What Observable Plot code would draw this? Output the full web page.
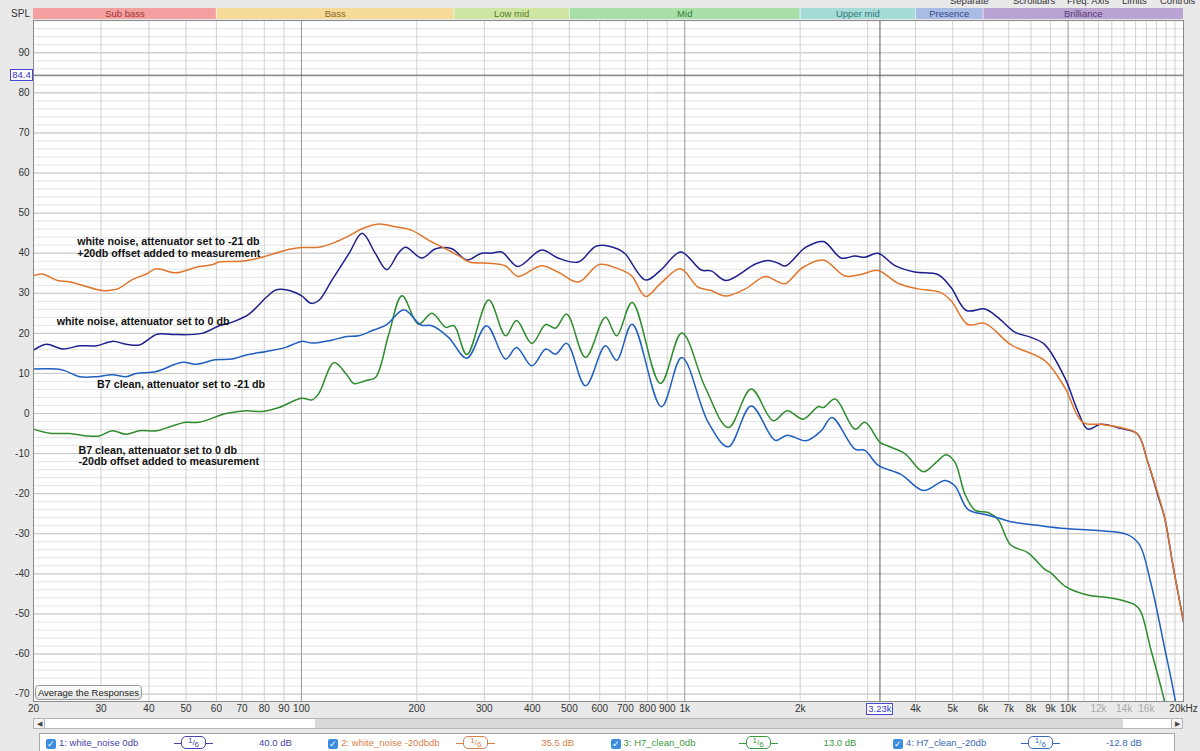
<!DOCTYPE html>
<html><head><meta charset="utf-8">
<script src="https://cdn.jsdelivr.net/npm/d3@7"></script>
<script src="https://cdn.jsdelivr.net/npm/@observablehq/plot@0.6"></script>
<style>
html,body{margin:0;padding:0;}
body{width:1200px;height:751px;overflow:hidden;background:#e9e9e9;position:relative;font-family:"Liberation Sans",Arial,sans-serif;}
.abs{position:absolute;}
svg{position:absolute;left:0;top:0;}
.menu{position:absolute;top:-5px;font-size:9.5px;color:#333;white-space:nowrap;line-height:11px;}
.btn{position:absolute;left:35px;top:685px;width:105px;height:13px;border:1px solid #9a9a9a;border-radius:4px;background:linear-gradient(#ffffff,#e4e4e4);font-size:9.5px;line-height:13px;text-align:center;color:#222;}
.cbox{position:absolute;border:1px solid #4a4ad0;background:#fff;color:#3434c8;font-size:9.5px;line-height:10px;text-align:center;}
.chk{position:absolute;width:10px;height:10px;border-radius:2px;background:#3c8de0;color:#fff;font-size:9px;line-height:10px;text-align:center;top:5px;}
.ltxt{position:absolute;top:2px;font-size:9.5px;line-height:14px;white-space:nowrap;}
.smooth{position:absolute;top:2px;width:39px;height:14px;}
.smooth .l{position:absolute;top:7px;height:0;border-top:1.5px solid;width:7px;}
.smooth .b{position:absolute;left:7px;top:0;width:23px;height:11px;border:1.5px solid;border-radius:5px;font-size:8px;line-height:11px;text-align:center;}
</style>
</head><body>
<script>
// ---- data ----
const navyFreq = [20,21.6,23.8,26.4,29.2,32.1,34.9,37.8,42,46,55,61,66,73,81,86,93,100,106,111,120,133,144,156,167,179,187,206,224,247,270,295,312,333,367,423,467,528,589,671,700,790,864,976,1104,1172,1280,1528,1652,1754,1829,2070,2300,2558,2780,2952,3192,3534,3980,4574,4946,5430,6068,6556,7260,8000,8694,9796,10592,11246,12160,13710,15172,16100,17320,17860,18700,20000];
const navyDb = [15.8,17.3,16.1,16.9,16.9,18.0,17.3,17.1,19.8,19.7,20.0,21.9,22.8,24.8,29.0,30.9,30.7,29.4,27.5,28.2,33.2,39.9,45.0,39.9,35.9,40.0,41.5,38.8,41.1,41.1,38.3,40.0,40.0,40.3,36.7,40.8,38.8,37.8,41.8,41.0,39.8,33.3,35.7,40.3,35.8,35.6,33.2,37.3,38.2,37.5,36.8,41.5,42.9,38.8,39.3,39.0,40.0,36.9,35.3,34.7,31.5,25.7,26.1,24.0,20.3,19.0,17.2,9.0,0.7,-3.9,-2.7,-3.7,-5.1,-11.8,-21.8,-26,-37,-52];

const orangeFreq = [20,21.1,23.1,24.8,26.8,30.2,32.1,33.5,36.2,39.4,41.8,47.1,53.1,58.5,61,70,79,87.4,94.6,100,111,120,131,144,159,176,194,215,238,257,274,308,341,367,423,467,528,598,671,726,790,863,974,1084,1172,1276,1439,1622,1754,1829,2036,2300,2618,2884,3192,3598,4050,4620,4946,5476,6068,7086,8694,9796,10916,12160,13710,15172,16100,17860,18700,20000];
const orangeDb = [34.4,34.8,33.2,32.9,32.0,30.7,30.8,31.3,33.4,34.8,36.1,35.1,36.5,37.1,37.8,38.0,39.0,40.3,41.1,41.4,41.5,42.4,44.0,46.1,47.3,46.6,45.7,43.2,41.1,39.4,37.8,37.5,36.8,34.2,36.9,35.3,32.8,37.2,36.1,34.4,29.2,32.4,36.1,31.5,30.7,29.3,31.1,34.2,32.8,32.4,36.5,38.3,34.3,34.7,35.7,32.5,31.1,30.3,28.2,22.2,22.5,17.2,13.2,6.5,-2.2,-2.7,-3.5,-5.1,-11.8,-26,-37,-52];

const greenFreq = [20,22,24.8,27.5,29.7,32.1,34.9,37.8,42,46,50,54,63.6,71.7,79,87.4,100,106.7,111,121.6,131,137,147,156,169,183,202,219,238,250,270,308,341,364,399,434,460,492,551,621,664,729,864,982,1131,1299,1490,1702,1850,2036,2228,2300,2468,2780,2952,3232,3390,3751,4190,4574,4800,5068,5380,5716,6180,6556,7086,7848,8694,9000,9850,11246,12914,14902,15450,16400,17860,18500];
const greenDb = [-3.9,-4.9,-5.0,-5.6,-5.6,-4.3,-5.2,-4.3,-4.3,-3.1,-2.2,-2.2,0,0.7,0.5,1.5,3.8,3.4,5.0,12.7,9.8,7.5,8.2,9.0,19.8,29.4,22.3,25.0,21.5,21.9,14.7,28.3,19.4,23.2,17.5,22.2,21.3,24.8,14.0,24.0,19.4,27.7,7.5,20.1,6.5,-3.5,6.1,-1.8,0.7,-1.4,1.7,1.5,3.6,-3.9,-2.2,-7.2,-8.1,-10.0,-14.5,-11.8,-10.3,-12.2,-20.1,-24.1,-24.7,-26.4,-32.8,-34.7,-38.9,-39.7,-43.2,-45.3,-46.0,-47.7,-49.3,-58.5,-72,-80];

const blueFreq = [20,23,24.1,26.4,29.2,32.1,34.9,37.1,41.8,48.9,53.1,59.5,66,71.7,81,91,100,106.7,120,131,141,153,167,185,205,219,242,270,304,341,364,399,434,460,492,551,621,664,729,869,982,1151,1299,1490,1722,1850,2070,2270,2420,2780,2952,3192,3664,4190,4774,5068,5476,6068,6442,7086,8332,9850,11940,14290,15350,16400,17860,19060,19500];
const blueDb = [11.1,11.1,10.7,9.2,9.2,9.7,9.2,10.0,10.5,12.8,12.3,13.4,13.6,14.6,15.5,16.5,18.0,17.6,18.3,19.2,19.4,20.7,22.2,25.9,22.1,21.9,19.0,13.8,21.9,13.6,16.5,11.9,16.1,14.8,17.5,6.9,16.9,13.3,22.3,1.7,14.0,-2.2,-8.3,1.9,-6.7,-5.4,-6.8,-4.3,-1.0,-8.9,-9.2,-12.9,-15.2,-19.2,-16.7,-18.1,-23.9,-25.2,-25.8,-27.0,-27.9,-28.7,-29.2,-30.2,-32.7,-41.9,-58.5,-72,-80];

const seriesNames = ["1: white_noise 0db","2: white_noise -20dbdb","3: H7_clean_0db","4: H7_clean_-20db"];
const seriesValues = ["40.0 dB","35.5 dB","13.0 dB","-12.8 dB"];
const seriesSmoothing = "1/6";

const bandNames = ["Sub bass","Bass","Low mid","Mid","Upper mid","Presence","Brilliance"];
const bandLo = [20,60,250,500,2000,4000,6000];
const bandHi = [60,250,500,2000,4000,6000,20000];

const xTickValues = [20,30,40,50,60,70,80,90,100,200,300,400,500,600,700,800,900,1000,2000,4000,5000,6000,7000,8000,9000,10000];
const xTickFaint = [12000,14000,16000];
const xTickEnd = [20000];
const yTickValues = [-70,-60,-50,-40,-30,-20,-10,0,10,20,30,40,50,60,70,80,90];

const cursorFreq = 3230, cursorFreqLabel = "3.23k";
const cursorLevel = 84.4, cursorLevelLabel = "84.4";

const noteText = ["white noise, attenuator set to -21 db\n+20db offset added to measurement","white noise, attenuator set to 0 db","B7 clean, attenuator set to -21 db","B7 clean, attenuator set to 0 db\n-20db offset added to measurement"];
const noteFreq = [26.0,23.0,29.3,26.2];
const noteDb = [41.5,23.0,7.2,-10.5];

const menuItems = ["Separate","Scrollbars","Freq. Axis","Limits","Controls"];

// ---- styling (not data) ----
const lineColors = ["#1f1f8e","#e0762c","#2e8b2e","#1f5fc0"];
const legendColors = ["#4646a8","#d8804a","#3c9a3c","#3a68b6"];
const bandFill = ["#f4a0a0","#f6da98","#cfe6a2","#a8dea8","#a6dcd8","#a9bde4","#b9a3d3"];
const bandText = ["#9c3434","#85672c","#557a2c","#357a35","#327676","#34488a","#573878"];

const freqs = [navyFreq,orangeFreq,greenFreq,blueFreq];
const dbs = [navyDb,orangeDb,greenDb,blueDb];
const rows = [];
freqs.forEach((fa,i)=>fa.forEach((f,j)=>rows.push({f, db: dbs[i][j], s: seriesNames[i]})));
const bands = bandNames.map((n,i)=>({name:n, lo:bandLo[i], hi:bandHi[i], fill:bandFill[i], tc:bandText[i]}));
const notes = noteText.map((t,i)=>({t, f:noteFreq[i], db:noteDb[i]}));

const gridFreqs = [];
for (let d of [10,100,1000]) for (let k=2;k<=9;k++) if (k*d>=20) gridFreqs.push(k*d);
for (let k=11;k<=19;k++) gridFreqs.push(k*1000);
const decadeFreqs = [100,1000,10000];
const minorDb = d3.range(-70, 99, 2);
const majorDb = d3.range(-70, 91, 10);

const font = "'Liberation Sans', Arial, sans-serif";
const common = {width:1200, marginLeft:33, marginRight:17};

const bandPlot = Plot.plot({
  ...common, height:20, marginTop:8, marginBottom:1,
  x:{type:"log", domain:[20,20000], axis:null},
  style:{background:"transparent", fontFamily:font},
  marks:[
    Plot.rect(bands,{x1:"lo", x2:"hi", fill:"fill"}),
    Plot.ruleX(bandLo.slice(1),{stroke:"#ffffff", strokeOpacity:0.6}),
    Plot.text(bands,{x:d=>Math.sqrt(d.lo*d.hi), text:"name", fill:"tc", fontSize:9.5})
  ]
});

const fmt = f => f >= 1000 ? (f/1000)+"k" : String(f);

const main = Plot.plot({
  ...common, height:716, marginTop:20, marginBottom:15,
  x:{type:"log", domain:[20,20000], axis:null},
  y:{domain:[-71.85,98.06], axis:null},
  style:{background:"transparent", fontFamily:font, fontSize:"10px", color:"#333"},
  marks:[
    Plot.frame({fill:"#ffffff", stroke:null}),
    Plot.gridY({ticks:minorDb, stroke:"#e4e4e4", strokeOpacity:1}),
    Plot.gridY({ticks:majorDb, stroke:"#c6c6c6", strokeOpacity:1}),
    Plot.gridX({ticks:gridFreqs, stroke:"#d2d2d2", strokeOpacity:1}),
    Plot.gridX({ticks:decadeFreqs, stroke:"#9a9a9a", strokeOpacity:1}),
    Plot.ruleY([cursorLevel],{stroke:"#5a5a5a", strokeWidth:1}),
    Plot.ruleX([cursorFreq],{stroke:"#5a5a5a", strokeWidth:1}),
    Plot.line(rows,{x:"f", y:"db", z:"s", stroke:d=>lineColors[seriesNames.indexOf(d.s)], strokeWidth:1.5, curve:"catmull-rom", clip:true}),
    Plot.text(notes,{x:"f", y:"db", text:"t", textAnchor:"start", lineAnchor:"middle", fontWeight:"bold", fontSize:10.7, lineHeight:1.08, fill:"#111"}),
    Plot.frame({stroke:"#8a8a8a"}),
    Plot.text(yTickValues,{y:d=>d, frameAnchor:"left", textAnchor:"end", dx:-4, text:d=>String(d), fill:"#333", fontSize:10}),
    Plot.text(xTickValues,{x:d=>d, frameAnchor:"bottom", lineAnchor:"top", dy:3, text:fmt, fill:"#333", fontSize:10}),
    Plot.text(xTickFaint,{x:d=>d, frameAnchor:"bottom", lineAnchor:"top", dy:3, text:fmt, fill:"#a8a8a8", fontSize:10}),
    Plot.text(xTickEnd,{x:d=>d, frameAnchor:"bottom", lineAnchor:"top", dy:3, text:d=>fmt(d)+"Hz", fill:"#333", fontSize:10})
  ]
});

document.body.appendChild(bandPlot);
document.body.appendChild(main);

const add = (cls, css, html) => { const e=document.createElement("div"); e.className=cls; Object.assign(e.style, css); e.innerHTML=html; document.body.appendChild(e); return e; };

// menu (cut off at the top in the original window)
const menuX = [950,1013,1067,1122,1160];
menuItems.forEach((m,i)=>add("menu",{left:menuX[i]+"px"},m));

// SPL label
add("abs",{left:"0px",top:"8px",width:"30px",textAlign:"right",fontSize:"10px",color:"#333",lineHeight:"12px"},"SPL");

// cursor labels
const ys = main.scale("y"), xs = main.scale("x");
const cy = ys.apply(cursorLevel);
add("cbox",{left:"10px",top:(cy-6)+"px",width:"21px",height:"10px"},cursorLevelLabel);
const cx = xs.apply(cursorFreq);
add("cbox",{left:(cx-13)+"px",top:"703px",width:"25px",height:"10px"},cursorFreqLabel);

// button
add("btn",{}, "Average the Responses");

// scrollbar
add("abs",{left:"33px",top:"718px",width:"1150px",height:"11px",background:"#fff",border:"1px solid #b5b5b5",boxSizing:"border-box"},"");
add("abs",{left:"33px",top:"718px",width:"12px",height:"11px",background:"#f2f2f2",border:"1px solid #b5b5b5",boxSizing:"border-box",fontSize:"7px",lineHeight:"9px",textAlign:"center",color:"#444"},"&#9664;");
add("abs",{left:"315px",top:"719px",width:"808px",height:"9px",background:"#d9d9d9"},"");
add("abs",{left:"1171px",top:"718px",width:"12px",height:"11px",background:"#f2f2f2",border:"1px solid #b5b5b5",boxSizing:"border-box",fontSize:"7px",lineHeight:"9px",textAlign:"center",color:"#444"},"&#9654;");

// legend bar
const bar = add("abs",{left:"39px",top:"733px",width:"1136px",height:"22px",background:"#fff",border:"1px solid #a8a8a8",boxSizing:"border-box"},"");
seriesNames.forEach((n,i)=>{
  const x0 = 6 + i*282.3;
  const c = legendColors[i];
  const mk = (cls, css, html)=>{const e=document.createElement("div"); e.className=cls; Object.assign(e.style,css); e.innerHTML=html; bar.appendChild(e); return e;};
  mk("chk",{left:x0+"px"},"&#10003;");
  mk("ltxt",{left:(x0+13)+"px",color:c},n);
  const s = mk("smooth",{left:(x0+128)+"px"},"");
  const [a,b] = seriesSmoothing.split("/");
  s.innerHTML = `<div class="l" style="left:0;border-color:${c}"></div><div class="b" style="border-color:${c};color:${c}"><span style="position:relative;top:-2px">${a}</span>/<span style="position:relative;top:2px">${b}</span></div><div class="l" style="left:32px;border-color:${c}"></div>`;
  mk("ltxt",{left:(x0+213)+"px",color:c},seriesValues[i]);
});
</script>
</body></html>
